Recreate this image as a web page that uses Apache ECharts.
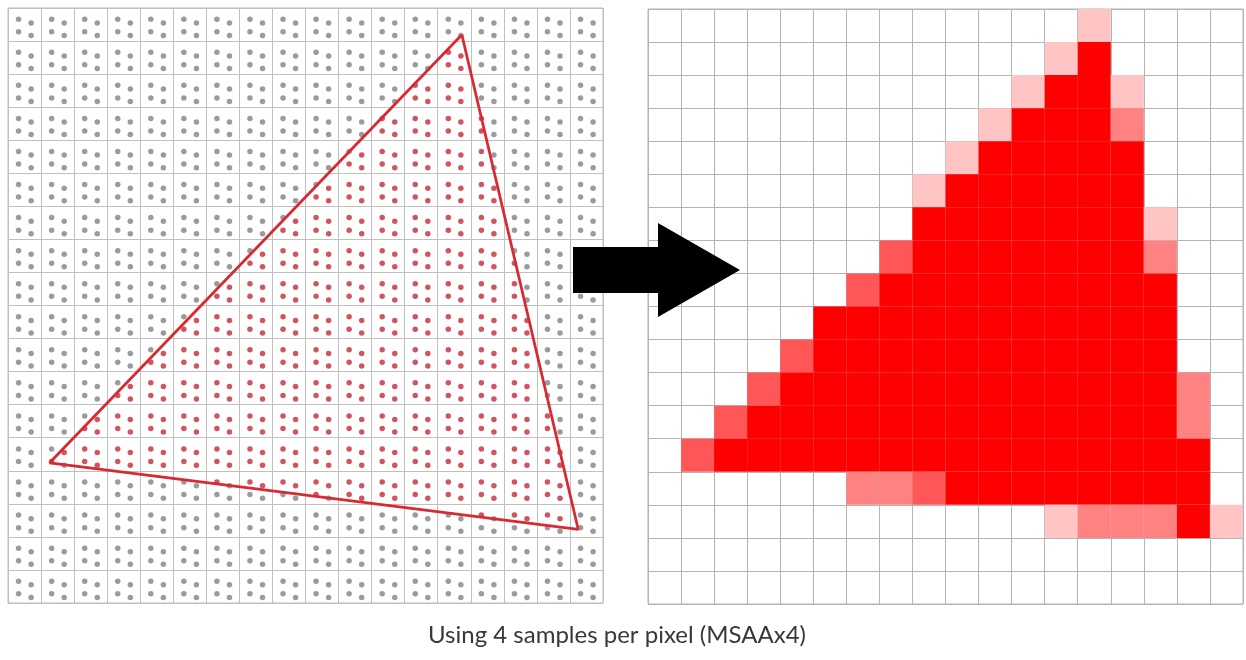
<!DOCTYPE html>
<html>
<head>
<meta charset="utf-8">
<title>MSAA x4</title>
<script src="https://cdn.jsdelivr.net/npm/echarts@6/dist/echarts.min.js"></script>
<style>
  html, body { margin: 0; padding: 0; background: #fff; }
  #main { width: 1246px; height: 660px; }
</style>
</head>
<body>
<div id="main"></div>
<script>
// 18 x 18 pixels on each side
var gridSize = 18;
// the 4 sample positions inside one pixel, in fractions of a pixel
var sampleOffsets = [[0.32, 0.34], [0.70, 0.45], [0.32, 0.72], [0.70, 0.83]];
// triangle corners in pixel units: top, left, right
var triangle = [[13.73, 0.81], [1.26, 13.76], [17.25, 15.77]];
// resolved pixels, runs of [row, firstCol, lastCol, samplesCovered]
var coverageRuns = [
    [0, 13, 13, 1],
    [1, 12, 12, 1], [1, 13, 13, 4],
    [2, 11, 11, 1], [2, 12, 13, 4], [2, 14, 14, 1],
    [3, 10, 10, 1], [3, 11, 13, 4], [3, 14, 14, 2],
    [4, 9, 9, 1], [4, 10, 14, 4],
    [5, 8, 8, 1], [5, 9, 14, 4],
    [6, 8, 14, 4], [6, 15, 15, 1],
    [7, 7, 7, 3], [7, 8, 14, 4], [7, 15, 15, 2],
    [8, 6, 6, 3], [8, 7, 15, 4],
    [9, 5, 15, 4],
    [10, 4, 4, 3], [10, 5, 15, 4],
    [11, 3, 3, 3], [11, 4, 15, 4], [11, 16, 16, 2],
    [12, 2, 2, 3], [12, 3, 15, 4], [12, 16, 16, 2],
    [13, 1, 1, 3], [13, 2, 16, 4],
    [14, 6, 7, 2], [14, 8, 8, 3], [14, 9, 16, 4],
    [15, 12, 12, 1], [15, 13, 15, 2], [15, 16, 16, 4], [15, 17, 17, 1]
];
var caption = 'Using 4 samples per pixel (MSAAx4)';

// shade for 1..4 covered samples
var shades = { 1: '#ffc4c4', 2: '#ff8282', 3: '#ff5757', 4: '#ff0000' };

function cross(a, b, p) {
    return (b[0] - a[0]) * (p[1] - a[1]) - (b[1] - a[1]) * (p[0] - a[0]);
}
function insideTriangle(p) {
    var d1 = cross(triangle[0], triangle[1], p);
    var d2 = cross(triangle[1], triangle[2], p);
    var d3 = cross(triangle[2], triangle[0], p);
    var neg = d1 < 0 || d2 < 0 || d3 < 0;
    var pos = d1 > 0 || d2 > 0 || d3 > 0;
    return !(neg && pos);
}

// sample dots, split in covered / not covered
var redSamples = [], graySamples = [];
for (var r = 0; r < gridSize; r++) {
    for (var c = 0; c < gridSize; c++) {
        sampleOffsets.forEach(function (o) {
            var p = [c + o[0], r + o[1]];
            (insideTriangle(p) ? redSamples : graySamples).push(p);
        });
    }
}

var cells = [];
coverageRuns.forEach(function (run) {
    for (var col = run[1]; col <= run[2]; col++) {
        cells.push([col, run[0], run[3]]);
    }
});

var outline = triangle.concat([triangle[0]]);

function pixelAxis(idx, isY, color) {
    return {
        type: 'value', gridIndex: idx, min: 0, max: gridSize, interval: 1,
        inverse: isY,
        axisLabel: { show: false }, axisTick: { show: false }, axisLine: { show: false },
        splitLine: { show: true, lineStyle: { color: color, width: 1 } }
    };
}

var chart = echarts.init(document.getElementById('main'));
chart.setOption({
    backgroundColor: '#fff',
    animation: false,
    title: {
        text: caption, left: 612, top: 618, textAlign: 'center',
        textStyle: { fontFamily: 'Lato', fontSize: 24, fontWeight: 'normal', color: '#383838' }
    },
    grid: [
        { left: 8, top: 8, width: 595, height: 595, show: true, borderColor: '#bdbdbd', borderWidth: 1 },
        { left: 648, top: 9, width: 595, height: 595, show: true, borderColor: '#b4b4b4', borderWidth: 1 }
    ],
    xAxis: [pixelAxis(0, false, '#c0c0c0'), pixelAxis(1, false, '#b4b4b4')],
    yAxis: [pixelAxis(0, true, '#c0c0c0'), pixelAxis(1, true, '#b4b4b4')],
    series: [
        {
            type: 'scatter', xAxisIndex: 0, yAxisIndex: 0, data: graySamples,
            symbolSize: 5.5, itemStyle: { color: '#828282' }, silent: true
        },
        {
            type: 'scatter', xAxisIndex: 0, yAxisIndex: 0, data: redSamples,
            symbolSize: 5.5, itemStyle: { color: '#c42a36' }, silent: true
        },
        {
            type: 'line', xAxisIndex: 0, yAxisIndex: 0, data: outline,
            symbol: 'none', z: 5, silent: true,
            lineStyle: { color: '#d92a32', width: 2.8 }
        },
        {
            type: 'custom', xAxisIndex: 1, yAxisIndex: 1, data: cells,
            encode: { x: 0, y: 1 }, silent: true,
            renderItem: function (params, api) {
                var p0 = api.coord([api.value(0), api.value(1)]);
                var p1 = api.coord([api.value(0) + 1, api.value(1) + 1]);
                return {
                    type: 'rect',
                    shape: {
                        x: Math.min(p0[0], p1[0]), y: Math.min(p0[1], p1[1]),
                        width: Math.abs(p1[0] - p0[0]), height: Math.abs(p1[1] - p0[1])
                    },
                    style: { fill: shades[api.value(2)] }
                };
            }
        }
    ],
    graphic: [{
        type: 'polygon', z: 100,
        shape: { points: [[573, 247], [658, 247], [658, 223], [740, 270], [658, 317], [658, 293], [573, 293]] },
        style: { fill: '#000' }
    }]
});
</script>
</body>
</html>
